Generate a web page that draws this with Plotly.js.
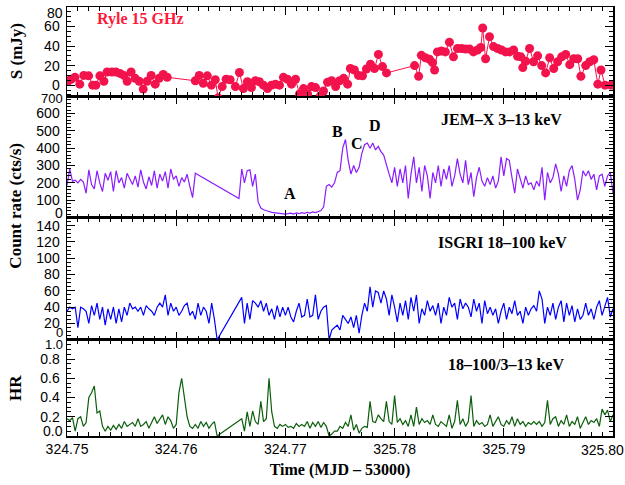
<!DOCTYPE html>
<html>
<head>
<meta charset="utf-8">
<script src="https://cdn.plot.ly/plotly-3.0.1.min.js"></script>
<style>html,body{margin:0;padding:0;background:#fff;}#chart{width:625px;height:485px;}</style>
</head>
<body>
<div id="chart"></div>
<script>
// x positions are in units of 0.01 day from the first tick (0 -> 324.75 ... 5 -> 325.80)
const tickVals = [0, 1, 2, 3, 4, 5];
const tickLabels = ['324.75', '324.76', '324.77', '325.78', '325.79', '325.80'];

// Ryle 15 GHz (mJy)
const ryleT = [0.007,0.037,0.073,0.117,0.154,0.198,0.235,0.264,0.301,0.338,0.367,0.411,0.448,0.485,0.521,0.551,0.587,0.624,0.661,0.698,0.734,0.771,0.808,0.844,0.881,0.918,
  1.175,1.211,1.248,1.285,1.322,1.358,1.384,1.421,1.457,1.494,1.542,1.579,1.615,1.652,1.689,1.725,1.762,1.799,1.836,1.872,1.909,1.946,1.982,2.019,2.056,2.093,2.129,2.166,2.203,2.239,2.276,2.320,2.349,2.386,2.423,2.460,2.496,2.533,2.570,2.595,2.632,2.669,2.706,2.742,2.779,2.816,2.852,2.889,2.926,
  3.183,3.220,3.245,3.282,3.319,3.348,3.366,3.392,3.429,3.465,3.502,3.539,3.576,3.612,3.649,3.686,3.722,3.759,3.789,3.807,3.833,3.869,3.906,3.943,3.979,4.016,4.053,4.090,4.126,4.156,4.174,4.200,4.236,4.273,4.310,4.347,4.383,4.420,4.457,4.493,4.530,4.567,4.604,4.640,4.677,4.706,4.750,4.787,4.824,4.861,4.890,4.927,4.982];
const ryleS = [4,6,8,1,10,9.5,0,0,9.5,4,13.5,13.5,13.5,12,10,4,13.5,7,4,-4,4,10,1,7,11,8,
  4.5,10,2,9.5,0,5.5,-13,-1.5,6,5.5,-1.5,13,-3.5,3.5,-2.5,4.5,3.5,0,-3.5,0,1,0,8,6,1,6,-9,-3.5,-9,-1.5,-2.5,-11,-6,3,4.5,-1.5,4.5,7,1,17,15.5,10,9.5,16.5,21.5,17,31.5,19,12.5,
  20,9,30.5,28,26.5,23,15.5,34,35,34,44,29,37.5,37.5,37,37,34,36,38.5,58.5,27,49.5,39.5,37.5,36,34,34,36,29.5,29,18,24.5,37.5,24,30,20,12.5,28,17,24,29,31.5,21,27,27,9,20,24,26,1,15.5,0,0];

// JEM-X 3-13 keV (cts/s): two contiguous segments, start, bin step
const jemStart1 = 0, jemStart2 = 1.575, jemStep = 0.025;
const jemRate1 = [185,280,210,215,200,220,205,140,275,190, 165,270,200,150,255,215,265,150,270,200,
  230,170,255,225,190,240,175,275,205,165, 235,185,270,170,250,210,265,170,280,220,
  240,180,230,205,250,180,115,255];
const jemRate2 = [110,280,200,270,275,180,250,90,55,45,
  38,35,30,28,25,22,24,20,22,25,
  20,26,22,28,24,30,26,32,28,35,
  40,60,180,190,175,200,260,270,400,450,
  330,250,300,260,290,370,420,430,400,430,
  390,410,380,360,300,250,200,290,180,280,
  200,300,110,250,350,200,290,150,300,240,
  110,260,200,300,180,280,220,300,180,240,
  340,250,200,330,190,260,120,230,290,210,
  180,230,190,240,170,210,350,240,340,330,
  230,140,280,220,170,240,190,200,160,210,
  180,290,100,260,200,230,310,250,150,240,
  180,270,300,220,100,160,270,240,270,220,
  250,160,240,250,180,240,260,140];

// ISGRI 18-100 keV (cts/s)
const isgStart1 = 0, isgStart2 = 1.6, isgStep = 0.025;
const isgRate1 = [35,40,38,40,15,40,38,35,20,42, 30,45,25,40,18,38,25,40,20,38,
  22,40,30,45,38,40,35,40,30,42, 38,35,30,40,45,40,55,30,45,35,
  40,30,35,42,45,30,35,25,45,30, 40,35,20,45,25,0];
const isgRate2 = [52,20,45,25,48,45,40,48,35,45,
  30,38,25,42,28,40,30,40,28,22,
  35,45,28,30,50,28,30,55,25,35,
  40,42,0,12,15,18,12,30,25,20,
  28,15,30,8,30,45,35,65,40,60,
  58,45,60,50,30,55,40,22,45,30,
  48,25,52,35,55,20,38,30,48,35,
  42,30,45,20,40,30,52,40,45,25,
  50,38,45,40,28,50,35,45,20,48,
  32,40,30,38,20,35,45,25,40,32,
  48,30,35,20,40,30,38,42,35,60,
  50,20,40,30,45,25,40,48,22,45,
  30,42,22,38,25,30,45,30,38,25,
  40,48,30,40,52,28,38];

// Hardness ratio 18-100/3-13 keV
const hrRatio1 = [0.18,0.16,0.19,0.05,0.18,0.20,0.10,0.14,0.40,0.45,
  0.52,0.24,0.26,0.10,0.05,0.10,0.06,0.11,0.07,0.12,
  0.08,0.15,0.10,0.12,0.14,0.10,0.18,0.10,0.12,0.15,
  0.08,0.14,0.20,0.13,0.18,0.22,0.12,0.20,0.16,0.08,
  0.12,0.45,0.60,0.40,0.20,0.10,0.08,0.12,0.08,0.15,
  0.10,0.14,0.08,0.12,0.15,0.0];
const hrRatio2 = [0.18,0.05,0.25,0.10,0.26,0.15,0.12,0.36,0.15,0.18,
  0.60,0.25,0.10,0.08,0.12,0.10,0.12,0.09,0.10,0.08,
  0.13,0.10,0.12,0.10,0.15,0.08,0.14,0.10,0.15,0.09,
  0.14,0.10,0.00,0.02,0.05,0.05,0.10,0.08,0.14,0.10,
  0.22,0.06,0.12,0.03,0.08,0.10,0.09,0.36,0.15,0.14,
  0.22,0.18,0.15,0.36,0.15,0.12,0.42,0.14,0.18,0.12,
  0.16,0.10,0.22,0.10,0.30,0.12,0.18,0.14,0.16,0.12,
  0.22,0.12,0.10,0.15,0.12,0.10,0.22,0.08,0.15,0.37,
  0.12,0.18,0.10,0.15,0.42,0.10,0.16,0.12,0.14,0.10,
  0.12,0.22,0.10,0.15,0.20,0.12,0.10,0.16,0.12,0.20,
  0.10,0.18,0.12,0.15,0.10,0.14,0.12,0.15,0.12,0.15,
  0.10,0.14,0.37,0.12,0.18,0.20,0.10,0.16,0.12,0.22,
  0.10,0.15,0.12,0.20,0.08,0.14,0.20,0.12,0.16,0.14,
  0.18,0.10,0.28,0.22,0.27,0.15,0.22];

function binTimes(start, step, vals) { return vals.map((_, i) => +(start + i * step).toFixed(4)); }
const jemT = binTimes(jemStart1, jemStep, jemRate1).concat(binTimes(jemStart2, jemStep, jemRate2));
const jemR = jemRate1.concat(jemRate2);
const isgT = binTimes(isgStart1, isgStep, isgRate1).concat(binTimes(isgStart2, isgStep, isgRate2));
const isgR = isgRate1.concat(isgRate2);
const hrT = binTimes(isgStart1, isgStep, hrRatio1).concat(binTimes(isgStart2, isgStep, hrRatio2));
const hrR = hrRatio1.concat(hrRatio2);

const traces = [
  {x: ryleT, y: ryleS, xaxis: 'x4', yaxis: 'y4', type: 'scatter', mode: 'lines+markers',
   line: {color: '#f2124c', width: 1}, marker: {color: '#f2124c', size: 9}},
  {x: jemT, y: jemR, xaxis: 'x3', yaxis: 'y3', type: 'scatter', mode: 'lines',
   line: {color: '#8a1cff', width: 1.2}},
  {x: isgT, y: isgR, xaxis: 'x2', yaxis: 'y2', type: 'scatter', mode: 'lines',
   line: {color: '#0000ff', width: 1.2}},
  {x: hrT, y: hrR, xaxis: 'x', yaxis: 'y', type: 'scatter', mode: 'lines',
   line: {color: '#0b5e0b', width: 1.2}}
];

const tickFont = {family: 'Liberation Sans, Arial, sans-serif', size: 14, color: '#000'};
const edgeFont = {family: 'Liberation Sans, Arial, sans-serif', size: 13, color: '#000'};
// the last x label is drawn as an annotation so that it stays inside the page
const axisTickText = tickLabels.slice(0, -1).concat(['']);
function xax(anchor, labels) {
  const a = {anchor: anchor, range: [0, 5], tickvals: tickVals, ticktext: axisTickText,
    showticklabels: labels, ticks: 'inside', ticklen: 8, tickwidth: 1, tickcolor: '#000',
    minor: {dtick: 0.1, ticklen: 4, tickwidth: 1, tickcolor: '#000', ticks: 'inside'},
    showline: true, linecolor: '#000', linewidth: 1.5, mirror: 'ticks', showgrid: false, zeroline: false,
    tickfont: tickFont, ticklabeloverflow: 'allow'};
  if (anchor !== 'y') a.matches = 'x';
  return a;
}
function yax(domain, range, minorDtick, tickvals, fmt) {
  return {domain: domain, range: range, tickvals: tickvals, tickformat: fmt,
    ticks: 'inside', ticklen: 8, tickwidth: 1, tickcolor: '#000',
    minor: {dtick: minorDtick, ticklen: 4, tickwidth: 1, tickcolor: '#000', ticks: 'inside'},
    showline: true, linecolor: '#000', linewidth: 1.5, mirror: 'ticks', showgrid: false, zeroline: false,
    tickfont: tickFont, ticklabelstandoff: 3, ticklabeloverflow: 'allow'};
}

const serifBold = (size, color) => ({family: 'Liberation Serif, Times New Roman, serif', size: size, color: color || '#000', weight: 'bold'});
function label(text, xp, yp, size, color) {
  return {text: text, xref: 'paper', yref: 'paper', x: xp, y: yp, xanchor: 'center', yanchor: 'middle',
    showarrow: false, font: serifBold(size, color)};
}
// tick labels at the panel edges, nudged inwards as in the original figure
function edgeTick(text, yref, yval, shift, font) {
  return {text: text, xref: 'paper', yref: yref, x: 0, y: yval, xanchor: 'right', yanchor: 'middle',
    xshift: -2, yshift: shift, showarrow: false, font: font || tickFont};
}
function yTitle(text, yp) {
  return {text: text, xref: 'paper', yref: 'paper', x: -0.0934, y: yp, xanchor: 'center', yanchor: 'middle',
    textangle: -90, showarrow: false, font: serifBold(17)};
}

const layout = {
  width: 625, height: 485,
  margin: {l: 67, r: 12, t: 7, b: 49},
  paper_bgcolor: '#fff', plot_bgcolor: '#fff',
  showlegend: false,
  xaxis: Object.assign(xax('y', true), {title: {text: 'Time (MJD \u2013 53000)', font: serifBold(16), standoff: 7}}),
  xaxis2: xax('y2', false),
  xaxis3: xax('y3', false),
  xaxis4: xax('y4', false),
  yaxis: yax([0, 0.2243], [0, 1], 0.05, [0.2, 0.4, 0.6, 0.8], '.1f'),
  yaxis2: yax([0.2243, 0.5093], [0, 150], 5, [20, 40, 60, 80, 100, 120, 140]),
  yaxis3: yax([0.5093, 0.7921], [0, 700], 20, [100, 200, 300, 400, 500, 600]),
  yaxis4: yax([0.7921, 1], [-11.3, 80], 5, [0, 20, 40, 60]),
  annotations: [
    label('Ryle 15 GHz', 0.1337, 0.973, 16, '#ff1a3c'),
    label('JEM\u2013X 3\u201313 keV', 0.795, 0.7383, 16),
    label('ISGRI 18\u2013100 keV', 0.7985, 0.4509, 16),
    label('18\u2013100/3\u201313 keV', 0.804, 0.1659, 16),
    label('A', 0.4084, 0.5654, 16),
    label('B', 0.4963, 0.7103, 16),
    label('C', 0.5311, 0.6822, 16),
    label('D', 0.5641, 0.7243, 16),
    edgeTick('80', 'y4', 80, -6),
    edgeTick('700', 'y3', 700, -2, edgeFont),
    edgeTick('0', 'y3', 0, 5),
    edgeTick('0', 'y2', 0, 7, edgeFont),
    edgeTick('1.0', 'y', 1, -5, edgeFont),
    edgeTick('0.0', 'y', 0, 5),
    {text: tickLabels[5], xref: 'paper', yref: 'paper', x: 1, y: 0, xanchor: 'center', yanchor: 'top',
     xshift: -11, yshift: -4, showarrow: false, font: tickFont},
    yTitle('S (mJy)', 0.897),
    yTitle('Count rate (cts/s)', 0.537),
    yTitle('HR', 0.112)
  ]
};

Plotly.newPlot('chart', traces, layout, {displayModeBar: false, staticPlot: true});
</script>
</body>
</html>
